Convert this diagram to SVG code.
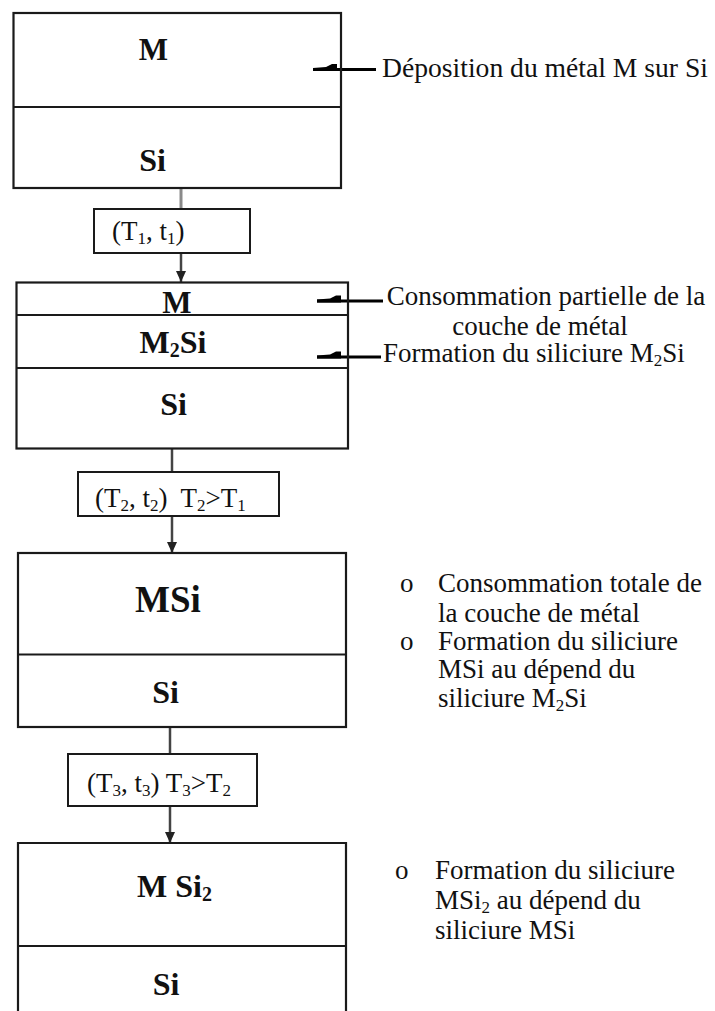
<svg xmlns="http://www.w3.org/2000/svg" xmlns:xlink="http://www.w3.org/1999/xlink" width="715" height="1011" viewBox="0 0 715 1011">
<defs>
<style>
.box{fill:none;stroke:#1a1a1a;stroke-width:2.2}
.div{stroke:#1a1a1a;stroke-width:2}
.cbox{fill:#fff;stroke:#1a1a1a;stroke-width:2}
.t{font-family:"Liberation Serif","Times New Roman",serif;font-size:27px;fill:#111}
.b{font-family:"Liberation Serif","Times New Roman",serif;font-weight:bold;fill:#111;text-anchor:middle}
.sub{font-size:17px}
.conn{stroke:#444;stroke-width:2.5;fill:none}
.ptr{stroke:#000;stroke-width:3}
</style>
<marker id="ah" markerUnits="userSpaceOnUse" markerWidth="12" markerHeight="10" refX="11" refY="5" orient="auto">
<path d="M0,0 L11,5 L0,10 Z" fill="#222"/>
</marker>
<path id="wedge" d="M0,-1.5 L13,-2.5 L19,-5.5 L24,-5.5 L24,1.5 L0,1.5 Z" fill="#000"/>
</defs>
<rect width="715" height="1011" fill="#fff"/>

<g id="connectors">
<line x1="181" y1="189" x2="181" y2="209" style="stroke:#8a8a8a;stroke-width:3"/>
<line class="conn" x1="181" y1="253" x2="181" y2="282" marker-end="url(#ah)"/>
<line class="conn" x1="172" y1="449" x2="172" y2="472"/>
<line class="conn" x1="172" y1="516" x2="172" y2="553" marker-end="url(#ah)"/>
<line class="conn" x1="170" y1="727" x2="170" y2="754"/>
<line class="conn" x1="170" y1="806" x2="170" y2="843" marker-end="url(#ah)"/>
<line class="ptr" x1="313" y1="69.5" x2="376" y2="69.5"/>
<use xlink:href="#wedge" x="313" y="69.5"/>
<line class="ptr" x1="317" y1="301" x2="383" y2="301"/>
<use xlink:href="#wedge" x="317" y="301"/>
<line class="ptr" x1="317" y1="357" x2="381" y2="357"/>
<use xlink:href="#wedge" x="317" y="357"/>
</g>

<g id="box1">
<rect class="box" x="13.5" y="13" width="327.5" height="175"/>
<line class="div" x1="13.5" y1="107" x2="341" y2="107"/>
<text class="b" x="153.5" y="60" font-size="31">M</text>
<text class="b" x="152.5" y="171" font-size="32">Si</text>
</g>

<g id="cond1">
<rect class="cbox" x="94" y="209" width="156" height="44"/>
<text class="t" x="112" y="240">(T<tspan class="sub" dy="4">1</tspan><tspan dy="-4">, t</tspan><tspan class="sub" dy="4">1</tspan><tspan dy="-4">)</tspan></text>
</g>

<g id="box2">
<rect class="box" x="16.5" y="282.5" width="331.5" height="166"/>
<line class="div" x1="16.5" y1="315" x2="348" y2="315"/>
<line class="div" x1="16.5" y1="368" x2="348" y2="368"/>
<text class="b" x="177" y="313" font-size="31">M</text>
<text class="b" x="173" y="353" font-size="32">M<tspan font-size="20" dy="4">2</tspan><tspan dy="-4">Si</tspan></text>
<text class="b" x="173.5" y="415" font-size="32">Si</text>
</g>

<g id="cond2">
<rect class="cbox" x="78" y="472" width="201" height="44"/>
<text class="t" x="95" y="507" xml:space="preserve">(T<tspan class="sub" dy="4">2</tspan><tspan dy="-4">, t</tspan><tspan class="sub" dy="4">2</tspan><tspan dy="-4">)  T</tspan><tspan class="sub" dy="4">2</tspan><tspan dy="-4">&gt;T</tspan><tspan class="sub" dy="4">1</tspan></text>
</g>

<g id="box3">
<rect class="box" x="18" y="553" width="328" height="174"/>
<line class="div" x1="18" y1="654.5" x2="346" y2="654.5"/>
<text class="b" x="168" y="612" font-size="37">MSi</text>
<text class="b" x="165.5" y="703" font-size="32">Si</text>
</g>

<g id="cond3">
<rect class="cbox" x="68" y="754" width="189" height="52"/>
<text class="t" x="87" y="792" xml:space="preserve">(T<tspan class="sub" dy="4">3</tspan><tspan dy="-4">, t</tspan><tspan class="sub" dy="4">3</tspan><tspan dy="-4">) T</tspan><tspan class="sub" dy="4">3</tspan><tspan dy="-4">&gt;T</tspan><tspan class="sub" dy="4">2</tspan></text>
</g>

<g id="box4">
<path class="box" d="M18,1011 V843 H346 V1011"/>
<line class="div" x1="18" y1="946" x2="346" y2="946"/>
<text class="b" x="174.5" y="897" font-size="32">M Si<tspan font-size="20" dy="4">2</tspan></text>
<text class="b" x="166" y="995" font-size="32">Si</text>
</g>

<g id="note1">
<text class="t" x="382" y="77" textLength="326" lengthAdjust="spacingAndGlyphs">Déposition du métal M sur Si</text>
</g>

<g id="note2">
<text class="t" x="546" y="305" text-anchor="middle">Consommation partielle de la</text>
<text class="t" x="540" y="335" text-anchor="middle">couche de métal</text>
</g>

<g id="note3">
<text class="t" x="383" y="362">Formation du siliciure M<tspan class="sub" dy="4">2</tspan><tspan dy="-4">Si</tspan></text>
</g>

<g id="note4">
<text class="t" x="400" y="592">o</text>
<text class="t" x="438" y="592">Consommation totale de</text>
<text class="t" x="438" y="622">la couche de métal</text>
<text class="t" x="400" y="650">o</text>
<text class="t" x="438" y="650">Formation du siliciure</text>
<text class="t" x="438" y="678">MSi au dépend du</text>
<text class="t" x="438" y="707">siliciure M<tspan class="sub" dy="4">2</tspan><tspan dy="-4">Si</tspan></text>
</g>

<g id="note5">
<text class="t" x="395" y="879">o</text>
<text class="t" x="435" y="879">Formation du siliciure</text>
<text class="t" x="435" y="909">MSi<tspan class="sub" dy="4">2</tspan><tspan dy="-4"> au dépend du</tspan></text>
<text class="t" x="435" y="939">siliciure MSi</text>
</g>
</svg>
